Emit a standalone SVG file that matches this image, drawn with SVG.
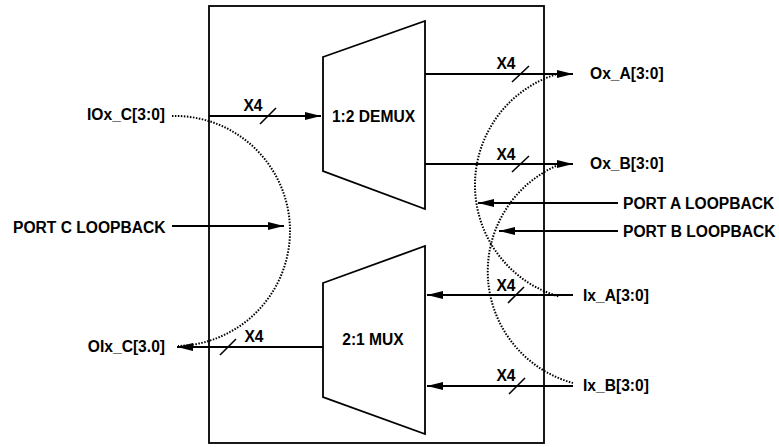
<svg xmlns="http://www.w3.org/2000/svg" width="779" height="447" viewBox="0 0 779 447">
<defs>
<marker id="ah" markerUnits="userSpaceOnUse" markerWidth="17" markerHeight="10" viewBox="0 0 17 10" refX="16" refY="5" orient="auto">
<path d="M0,1 L16,5 L0,9 Z" fill="#000"/>
</marker>
<style>
text{font-family:"Liberation Sans",Arial,sans-serif;font-weight:bold;font-size:15.6px;fill:#000}
.ln{stroke:#000;stroke-width:1.8;fill:none}
.ar{stroke:#000;stroke-width:1.8;fill:none;marker-end:url(#ah)}
.sl{stroke:#000;stroke-width:1.6}
.dot{stroke:#000;stroke-width:2;fill:none;stroke-dasharray:1.5 1.5}
.mid{text-anchor:middle}
.end{text-anchor:end}
</style>
</defs>
<rect width="779" height="447" fill="#fff"/>
<g id="chip"><rect x="209" y="6" width="335" height="437" class="ln" stroke-width="2"/></g>
<g id="demux"><path d="M323,57 L425,21 L425,209 L323,171 Z" class="ln" stroke-width="2"/><text x="373.5" y="122" class="mid">1:2 DEMUX</text></g>
<g id="mux"><path d="M323,283 L425,246 L425,434 L323,397 Z" class="ln" stroke-width="2"/><text x="373" y="345" class="mid">2:1 MUX</text></g>
<g id="iox_c"><text x="165" y="120" class="end">IOx_C[3:0]</text></g>
<g id="oix_c"><text x="165" y="352" class="end">OIx_C[3.0]</text></g>
<g id="port_c"><text x="13" y="233">PORT C LOOPBACK</text></g>
<g id="ox_a"><text x="590" y="79">Ox_A[3:0]</text></g>
<g id="ox_b"><text x="590" y="169">Ox_B[3:0]</text></g>
<g id="port_a"><text x="623" y="209">PORT A LOOPBACK</text></g>
<g id="port_b"><text x="623" y="237">PORT B LOOPBACK</text></g>
<g id="ix_a"><text x="583" y="301">Ix_A[3:0]</text></g>
<g id="ix_b"><text x="583" y="391">Ix_B[3:0]</text></g>
<g id="connectors">
<path d="M209,116 L321,116" class="ar"/>
<path d="M323,347 L177,347" class="ar"/>
<path d="M425,74 L573,74" class="ar"/>
<path d="M425,164 L573,164" class="ar"/>
<path d="M573,295 L427,295" class="ar"/>
<path d="M573,386 L427,386" class="ar"/>
<path d="M618,203 L478,203" class="ar"/>
<path d="M618,231 L499,231" class="ar"/>
<path d="M172,226 L284,226" class="ar"/>
<line x1="260" y1="124" x2="276" y2="108" class="sl"/>
<line x1="220" y1="355" x2="236" y2="339" class="sl"/>
<line x1="512" y1="82" x2="529" y2="66" class="sl"/>
<line x1="512" y1="172" x2="529" y2="156" class="sl"/>
<line x1="508" y1="303" x2="524" y2="287" class="sl"/>
<line x1="509" y1="394" x2="525" y2="378" class="sl"/>
<text x="253" y="111" class="mid">X4</text>
<text x="254" y="342" class="mid">X4</text>
<text x="506" y="69" class="mid">X4</text>
<text x="506" y="160" class="mid">X4</text>
<text x="506" y="291" class="mid">X4</text>
<text x="506" y="381" class="mid">X4</text>
<path d="M172,116 A115,115 0 0 1 178,346" class="dot"/>
<path d="M556,74.4 A116,116 0 0 0 559,296.5" class="dot"/>
<path d="M556,166 A115.6,115.6 0 0 0 573,383" class="dot"/>
</g>
</svg>
